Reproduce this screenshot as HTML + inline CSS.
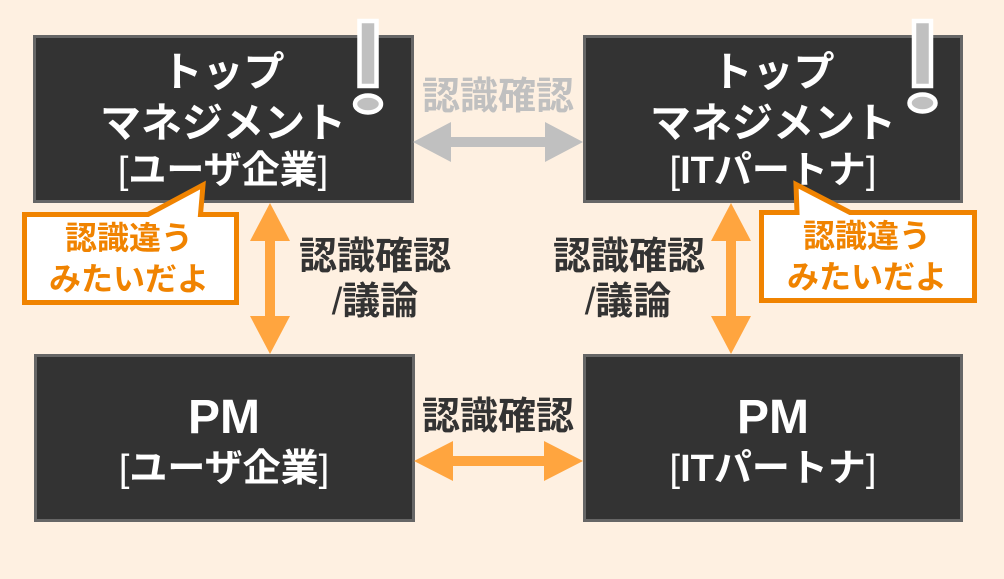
<!DOCTYPE html>
<html lang="ja">
<head>
<meta charset="utf-8">
<style>
  html, body { margin:0; padding:0; background:#fef0e1; }
  body { width:1004px; height:579px; overflow:hidden; }
  svg { display:block; }
  text { font-family:"Liberation Sans","Noto Sans CJK JP",sans-serif; font-weight:700; }
  .thin { font-weight:400; }
</style>
</head>
<body>
<svg width="1004" height="579" viewBox="0 0 1004 579" xmlns="http://www.w3.org/2000/svg">
  <rect x="0" y="0" width="1004" height="579" fill="#fef0e1"/>

  <!-- Boxes -->
  <rect x="34.5" y="36.5" width="378" height="165" fill="#333333" stroke="#666666" stroke-width="3"/>
  <rect x="584.5" y="36.5" width="377" height="165" fill="#333333" stroke="#666666" stroke-width="3"/>
  <rect x="35.5" y="355.5" width="378" height="165" fill="#333333" stroke="#666666" stroke-width="3"/>
  <rect x="584.5" y="355.5" width="377" height="165" fill="#333333" stroke="#666666" stroke-width="3"/>

  <!-- Box texts -->
  <g fill="#ffffff" text-anchor="middle">
    <text x="223" y="86" font-size="41">トップ</text>
    <text x="223" y="137" font-size="41">マネジメント</text>
    <text x="223" y="183" font-size="38"><tspan class="thin">[</tspan>ユーザ企業<tspan class="thin">]</tspan></text>

    <text x="773" y="86" font-size="41">トップ</text>
    <text x="773" y="137" font-size="41">マネジメント</text>
    <text x="773" y="183" font-size="38"><tspan class="thin">[</tspan>ITパートナ<tspan class="thin">]</tspan></text>

    <text x="224" y="433" font-size="48">PM</text>
    <text x="224" y="481" font-size="38"><tspan class="thin">[</tspan>ユーザ企業<tspan class="thin">]</tspan></text>

    <text x="773" y="433" font-size="48">PM</text>
    <text x="773" y="481" font-size="38"><tspan class="thin">[</tspan>ITパートナ<tspan class="thin">]</tspan></text>
  </g>

  <!-- Exclamation marks -->
  <g>
    <rect x="359.5" y="21" width="17" height="65" fill="#c0c0c0" stroke="#ffffff" stroke-width="4.5"/>
    <ellipse cx="368" cy="104" rx="13" ry="8.5" fill="#c0c0c0" stroke="#ffffff" stroke-width="4.5"/>
    <rect x="914" y="21" width="17" height="65" fill="#c0c0c0" stroke="#ffffff" stroke-width="4.5"/>
    <ellipse cx="922.5" cy="103" rx="13" ry="8.5" fill="#c0c0c0" stroke="#ffffff" stroke-width="4.5"/>
  </g>

  <!-- Gray horizontal arrow (top) -->
  <polygon fill="#c0c0c0" points="413,142 451,122 451,137 545,137 545,122 583,142 545,162 545,147 451,147 451,162"/>
  <text x="498" y="109" font-size="38" fill="#c0c0c0" text-anchor="middle">認識確認</text>

  <!-- Orange horizontal arrow (bottom) -->
  <polygon fill="#ffa53f" points="414,461 453,441 453,456 544,456 544,441 583,461 544,481 544,466 453,466 453,481"/>
  <text x="498" y="429" font-size="38" fill="#333333" text-anchor="middle">認識確認</text>

  <!-- Orange vertical arrows -->
  <polygon fill="#ffa53f" points="270,203 290,241 275,241 275,316 290,316 270,354 250,316 265,316 265,241 250,241"/>
  <polygon fill="#ffa53f" points="731,203 751,241 736,241 736,316 751,316 731,354 711,316 726,316 726,241 711,241"/>

  <g fill="#333333" text-anchor="middle" font-size="38">
    <text x="375" y="269">認識確認</text>
    <text x="375" y="314"><tspan class="thin">/</tspan>議論</text>
    <text x="629" y="269">認識確認</text>
    <text x="628" y="314"><tspan class="thin">/</tspan>議論</text>
  </g>

  <!-- Callouts -->
  <path d="M24.5,214.5 L148,214.5 L203,185 L200.5,214.5 L236.5,214.5 L236.5,302.5 L24.5,302.5 Z"
        fill="#ffffff" stroke="#f08300" stroke-width="5" stroke-linejoin="miter"/>
  <path d="M761.5,212.5 L797,212.5 L796,184.5 L850,212.5 L974.5,212.5 L974.5,300.5 L761.5,300.5 Z"
        fill="#ffffff" stroke="#f08300" stroke-width="5" stroke-linejoin="miter"/>

  <g fill="#f08300" text-anchor="middle" font-size="32">
    <text x="129" y="249">認識違う</text>
    <text x="129" y="290">みたいだよ</text>
    <text x="867" y="247">認識違う</text>
    <text x="867" y="288">みたいだよ</text>
  </g>
</svg>
</body>
</html>
